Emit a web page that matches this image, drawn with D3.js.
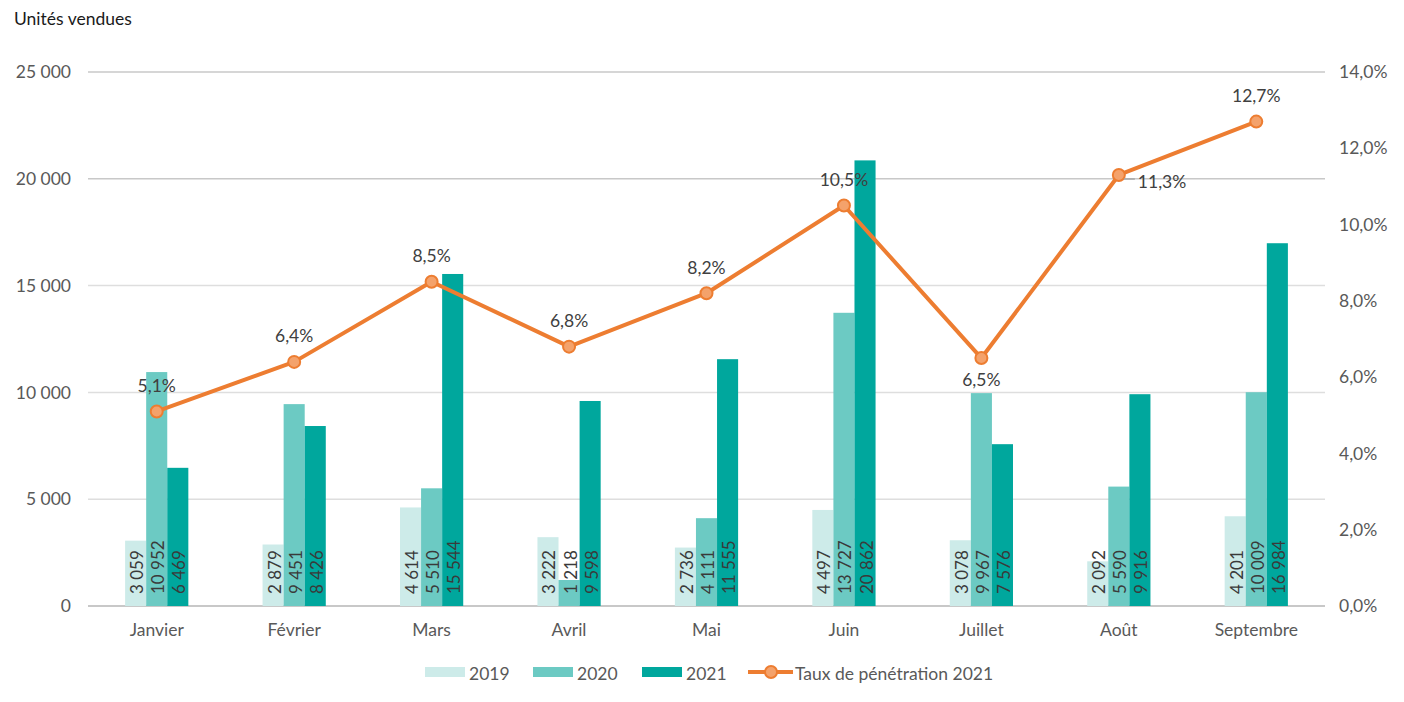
<!DOCTYPE html>
<html><head><meta charset="utf-8">
<script src="https://cdn.jsdelivr.net/npm/d3@7"></script>
<style>
html,body{margin:0;padding:0;background:#fff;}
svg{display:block;font-family:Lato, "Noto Sans", sans-serif;}
</style></head>
<body>
<svg id="chart" width="1404" height="702"></svg>
<script>
const months = ["Janvier","Février","Mars","Avril","Mai","Juin","Juillet","Août","Septembre"];
const series = ["2019","2020","2021"];
const v2019 = [3059,2879,4614,3222,2736,4497,3078,2092,4201];
const v2020 = [10952,9451,5510,1218,4111,13727,9967,5590,10009];
const v2021 = [6469,8426,15544,9598,11555,20862,7576,9916,16984];
const rate2021 = [0.051,0.064,0.085,0.068,0.082,0.105,0.065,0.113,0.127];
const leftTicks = [0,5000,10000,15000,20000,25000];
const rightTicks = [0,0.02,0.04,0.06,0.08,0.10,0.12,0.14];
const colors = ["#CDEBE9","#6CCAC3","#00A79D"];
const lineColor = "#ED7D31";

const svg = d3.select("#chart");
const L = 88, R = 1325, T = 72, B = 606;
const FS = 17.5;
const frLocale = d3.formatLocale({decimal:",", thousands:"\u00a0", grouping:[3], currency:["","€"]});
const fmtInt = frLocale.format(",d");
const fmtPct = frLocale.format(".1%");

const x0 = d3.scaleBand().domain(months).range([L,R]).paddingInner(0.54).paddingOuter(0.27);
const x1 = d3.scaleBand().domain(series).range([0,x0.bandwidth()]);
const y = d3.scaleLinear().domain([0,25000]).range([B,T]);
const y2 = d3.scaleLinear().domain([0,0.14]).range([B,T]);
const cx = m => x0(m) + x0.bandwidth()/2;

// title
svg.append("text").attr("x",14).attr("y",25).attr("font-size",17.5).attr("fill","#1a1a1a").text("Unités vendues");

// gridlines
svg.append("g").selectAll("line").data(leftTicks).join("line")
  .attr("x1",L).attr("x2",R).attr("y1",d=>y(d)).attr("y2",d=>y(d))
  .attr("stroke",d=>d===0?"#c8c8c8":(d>=20000?"#c8c8c8":"#dedede")).attr("stroke-width",d=>d===0?2:1.5);

// left axis labels
const leftAxis = d3.axisLeft(y).tickValues(leftTicks).tickFormat(d=>d===0?"0":fmtInt(d)).tickSize(0).tickPadding(0);
svg.append("g").attr("transform",`translate(${L-17},0)`).call(leftAxis)
  .call(g=>g.select(".domain").remove())
  .call(g=>g.selectAll("text").attr("font-size",FS).attr("fill","#595959").attr("font-family","Lato, sans-serif"));

// right axis labels
const rightAxis = d3.axisRight(y2).tickValues(rightTicks).tickFormat(fmtPct).tickSize(0).tickPadding(0);
svg.append("g").attr("transform",`translate(${R+14},0)`).call(rightAxis)
  .call(g=>g.select(".domain").remove())
  .call(g=>g.selectAll("text").attr("font-size",FS).attr("fill","#595959").attr("font-family","Lato, sans-serif"));

// x axis labels
const xAxis = d3.axisBottom(x0).tickSize(0).tickPadding(0);
svg.append("g").attr("transform",`translate(0,${B+18})`).call(xAxis)
  .call(g=>g.select(".domain").remove())
  .call(g=>g.selectAll("text").attr("font-size",FS).attr("fill","#595959").attr("font-family","Lato, sans-serif"));

// bars
const data = months.map((m,i)=>({m, vals:[v2019[i],v2020[i],v2021[i]]}));
const groups = svg.append("g").selectAll("g").data(data).join("g")
  .attr("transform",d=>`translate(${x0(d.m)},0)`);
groups.selectAll("rect").data(d=>d.vals.map((v,j)=>({s:series[j],v,j}))).join("rect")
  .attr("x",d=>x1(d.s)).attr("width",x1.bandwidth())
  .attr("y",d=>y(d.v)).attr("height",d=>B-y(d.v))
  .attr("fill",d=>colors[d.j]);
groups.selectAll("text").data(d=>d.vals.map((v,j)=>({s:series[j],v,j}))).join("text")
  .attr("transform",d=>`translate(${x1(d.s)+x1.bandwidth()/2+1},${B-12}) rotate(-90)`)
  .attr("dominant-baseline","central")
  .attr("font-size",17).attr("fill","#3a3a3a")
  .text(d=>fmtInt(d.v));

// line
const line = d3.line().x((d,i)=>cx(months[i])).y(d=>y2(d));
svg.append("path").datum(rate2021).attr("d",line).attr("fill","none")
  .attr("stroke",lineColor).attr("stroke-width",4).attr("stroke-linejoin","round");
svg.append("g").selectAll("circle").data(rate2021).join("circle")
  .attr("cx",(d,i)=>cx(months[i])).attr("cy",d=>y2(d)).attr("r",6)
  .attr("fill","#F4A26B").attr("stroke",lineColor).attr("stroke-width",2);

// point labels
const offs = months.map((m,i)=>{
  if(m==="Juillet") return {dx:0,dy:21,anchor:"middle"};
  if(m==="Août") return {dx:19,dy:7,anchor:"start"};
  return {dx:0,dy:-26,anchor:"middle"};
});
svg.append("g").selectAll("text").data(rate2021).join("text")
  .attr("x",(d,i)=>cx(months[i])+offs[i].dx).attr("y",(d,i)=>y2(d)+offs[i].dy)
  .attr("text-anchor",(d,i)=>offs[i].anchor).attr("dominant-baseline","central")
  .attr("font-size",FS).attr("fill","#404040").text(d=>fmtPct(d));
// leader line for Août
const ai = months.indexOf("Août");
svg.append("line").attr("x1",cx(months[ai])+5).attr("x2",cx(months[ai])+16)
  .attr("y1",y2(rate2021[ai])+4).attr("y2",y2(rate2021[ai])+4)
  .attr("stroke","#a6a6a6").attr("stroke-width",1.5);

// legend
const lg = svg.append("g").attr("font-size",FS).attr("fill","#595959");
const legItems = [{x:425,label:"2019"},{x:533,label:"2020"},{x:642,label:"2021"}];
legItems.forEach((it,j)=>{
  lg.append("rect").attr("x",it.x).attr("y",667).attr("width",40).attr("height",10).attr("fill",colors[j]);
  lg.append("text").attr("x",it.x+44).attr("y",673).attr("dominant-baseline","central").text(it.label);
});
lg.append("line").attr("x1",748).attr("x2",793).attr("y1",672).attr("y2",672).attr("stroke",lineColor).attr("stroke-width",4);
lg.append("circle").attr("cx",771).attr("cy",672).attr("r",6).attr("fill","#F4A26B").attr("stroke",lineColor).attr("stroke-width",2);
lg.append("text").attr("x",795).attr("y",673).attr("dominant-baseline","central").text("Taux de pénétration 2021");
</script>
</body></html>
